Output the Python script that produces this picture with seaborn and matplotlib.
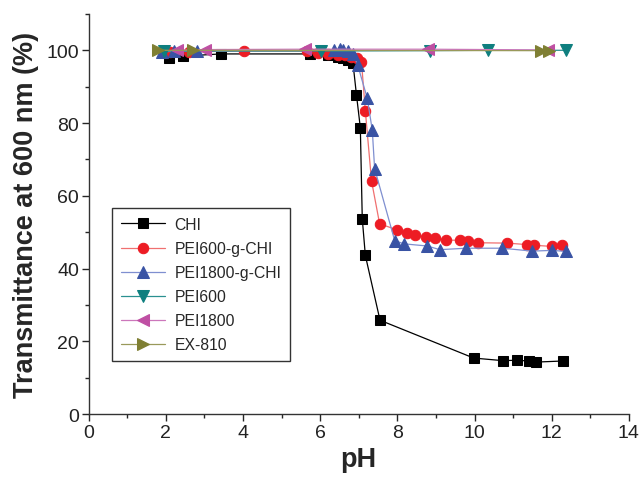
"""
Transmittance vs pH for CHI and PEI-grafted samples.
"""

import pandas as pd
import matplotlib.pyplot as plt
import seaborn as sns
from matplotlib.ticker import MultipleLocator

# Data
chi_ph = [2.07, 2.45, 3.42, 5.73, 6.2, 6.46, 6.6, 6.72, 6.85, 6.94, 7.04,
          7.09, 7.17, 7.55, 9.98, 10.73, 11.1, 11.4, 11.6, 12.3]
chi_t = [98.0, 98.4, 99.0, 99.0, 98.6, 98.2, 97.8, 97.3, 96.4, 87.7, 78.7,
         53.7, 43.6, 25.8, 15.4, 14.7, 14.8, 14.6, 14.3, 14.6]

pei600g_ph = [2.1, 2.6, 4.03, 5.65, 5.95, 6.2, 6.45, 6.65, 6.8, 6.95, 7.07,
              7.17, 7.33, 7.54, 7.98, 8.25, 8.45, 8.75, 8.97, 9.25, 9.62,
              9.84, 10.08, 10.85, 11.35, 11.55, 12.0, 12.28]
pei600g_t = [99.5, 99.6, 99.8, 99.8, 99.3, 99.0, 98.8, 98.6, 98.2, 97.8, 96.8,
             83.3, 64.1, 52.3, 50.7, 49.8, 49.3, 48.6, 48.5, 47.8, 47.8,
             47.5, 47.1, 47.0, 46.6, 46.4, 46.1, 46.4]

pei1800g_ph = [1.9, 2.2, 2.8, 6.35, 6.5, 6.6, 6.72, 6.85, 6.97, 7.22, 7.35,
               7.41, 7.93, 8.17, 8.78, 9.1, 9.79, 10.72, 11.49, 12.01, 12.38]
pei1800g_t = [99.6, 99.7, 99.8, 100.0, 100.3, 100.2, 99.8, 99.0, 96.0, 86.8,
              78.0, 67.5, 47.7, 46.8, 46.2, 45.2, 45.6, 45.6, 44.8, 45.0, 44.7]

pei600_ph = [1.95, 6.03, 8.84, 10.34, 12.38]
pei600_t = [99.8, 99.8, 99.9, 100.0, 100.0]

pei1800_ph = [2.3, 3.02, 5.6, 8.8, 11.91]
pei1800_t = [100.0, 100.2, 100.3, 100.3, 100.1]

ex810_ph = [1.8, 2.7, 11.73, 11.92]
ex810_t = [100.0, 100.0, 99.9, 99.9]

# (label, x, y, marker, size, marker color, line color)
series = [
    ("CHI", chi_ph, chi_t, "s", 6.5, "black", "black"),
    ("PEI600-g-CHI", pei600g_ph, pei600g_t, "o", 7.5, "#ed1c24", "#f07070"),
    ("PEI1800-g-CHI", pei1800g_ph, pei1800g_t, "^", 8, "#3953a4", "#7f8fd0"),
    ("PEI600", pei600_ph, pei600_t, "v", 8, "#0e7f7f", "#2a9090"),
    ("PEI1800", pei1800_ph, pei1800_t, "<", 8, "#bf4fa3", "#cc77bb"),
    ("EX-810", ex810_ph, ex810_t, ">", 8, "#7f7f33", "#99995a"),
]

sns.set_style("ticks")
plt.rcParams["font.family"] = ["Liberation Sans", "DejaVu Sans"]

fig = plt.figure(figsize=(6.43, 4.81), dpi=100)
ax = fig.add_axes([0.138, 0.137, 0.840, 0.832])

for label, x, y, marker, size, mcolor, lcolor in series:
    df = pd.DataFrame({"pH": x, "T": y})
    sns.lineplot(
        data=df, x="pH", y="T", ax=ax, sort=False, estimator=None,
        color=lcolor, linewidth=0.9, marker=marker, markersize=size,
        markerfacecolor=mcolor, markeredgecolor=mcolor, label=label,
    )

ax.set_xlim(0, 14)
ax.set_ylim(0, 110)
ax.xaxis.set_major_locator(MultipleLocator(2))
ax.xaxis.set_minor_locator(MultipleLocator(1))
ax.yaxis.set_minor_locator(MultipleLocator(10))
ax.set_yticks([0, 20, 40, 60, 80, 100])
ax.tick_params(which="major", length=5, width=1, labelsize=14,
               direction="out", labelcolor="#222222", pad=2)
ax.tick_params(which="minor", length=3, width=1, direction="out")
sns.despine(ax=ax)
for s in ["left", "bottom"]:
    ax.spines[s].set_linewidth(1)
    ax.spines[s].set_color("#333333")

ax.set_xlabel("pH", fontsize=19.5, fontweight="bold", labelpad=4)
ax.set_ylabel("Transmittance at 600 nm (%)", fontsize=19.5, fontweight="bold", labelpad=5)

leg = ax.legend(loc="lower left", bbox_to_anchor=(0.044, 0.1325), fontsize=11.3,
                frameon=True, fancybox=False, handlelength=2.8,
                handletextpad=0.6, borderpad=0.55, borderaxespad=0,
                labelspacing=0.58)
leg.get_frame().set_edgecolor("#333333")
leg.get_frame().set_linewidth(1)
leg.get_frame().set_alpha(1)

plt.savefig("out.png", dpi=100)
